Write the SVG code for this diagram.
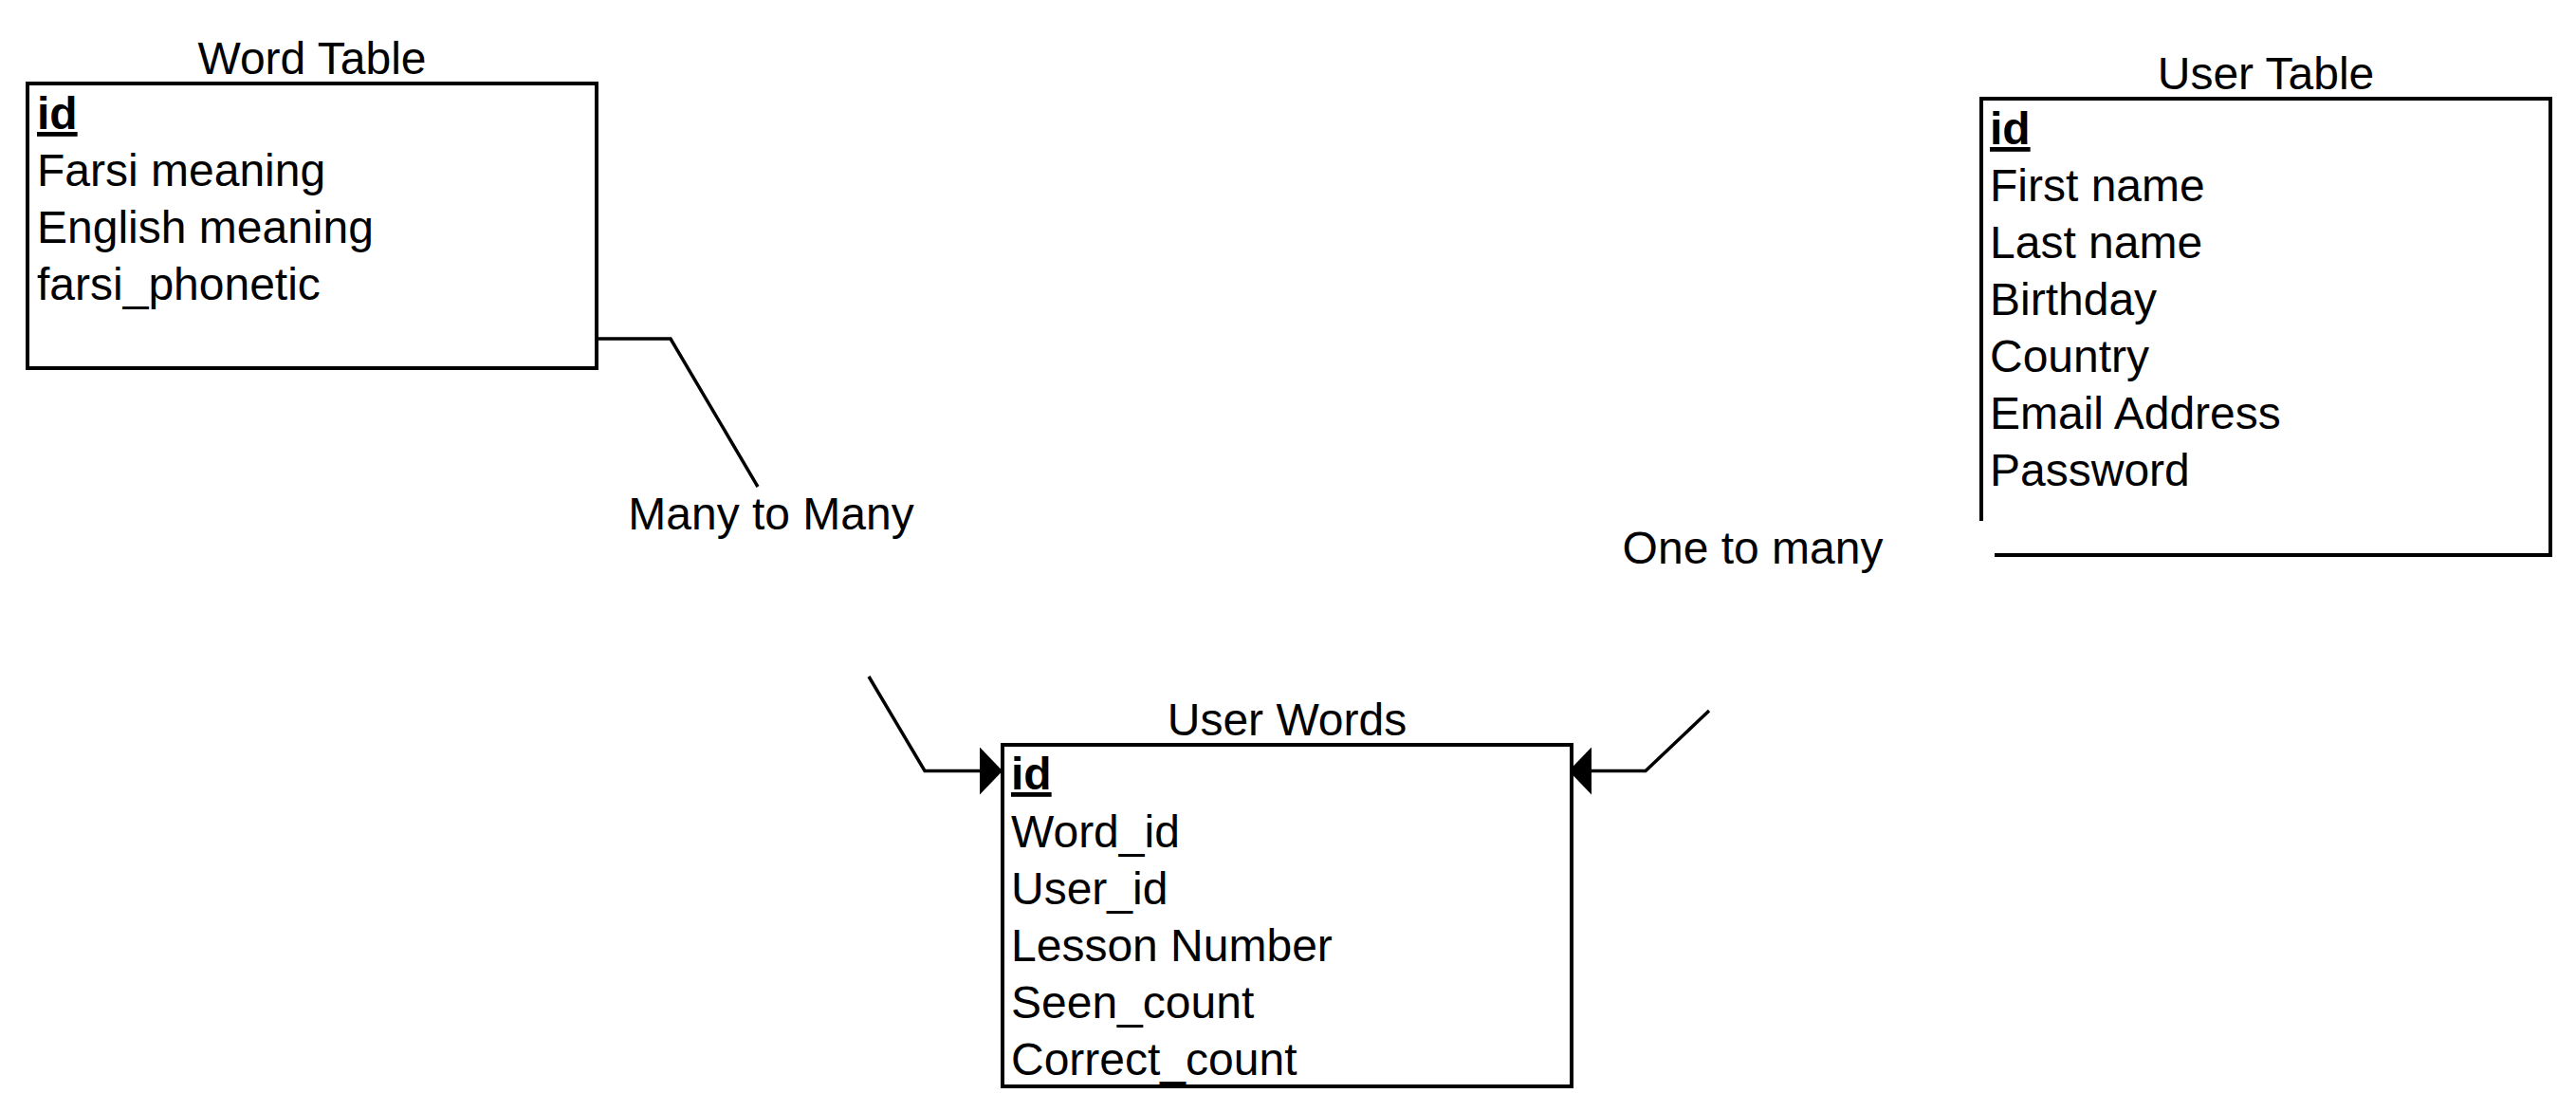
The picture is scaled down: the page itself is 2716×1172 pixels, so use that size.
<svg xmlns="http://www.w3.org/2000/svg" width="2716" height="1172" viewBox="0 0 2716 1172">
<style>
text{font-family:"Liberation Sans",Arial,Helvetica,sans-serif;font-size:48px;fill:#000}
.title{text-anchor:middle}
.pk{font-weight:bold;text-decoration:underline}
.box{fill:#fff;stroke:#000;stroke-width:4}
.edge{fill:none;stroke:#000;stroke-width:3.5}
</style>
<defs>
<marker id="block" markerUnits="userSpaceOnUse" markerWidth="24" markerHeight="50" refX="23" refY="25" orient="auto" viewBox="0 0 24 50">
<path d="M0,0 L24,25 L0,50 Z" fill="#000"/>
</marker>
</defs>
<rect width="2716" height="1172" fill="#fff"/>
<g id="connectors">
<path class="edge" d="M629,357 L707,357 L799,513"/>
<path class="edge" d="M916,713 L975,812.5 L1056,812.5" marker-end="url(#block)"/>
<path class="edge" d="M1802,749 L1735,812.5 L1655,812.5" marker-end="url(#block)"/>
</g>
<g id="word-table">
<text class="title" x="329" y="78">Word Table</text>
<rect class="box" x="29" y="88" width="600" height="300"/>
<text class="pk" x="39" y="136">id</text>
<text x="39" y="196">Farsi meaning</text>
<text x="39" y="256">English meaning</text>
<text x="39" y="316">farsi_phonetic</text>
</g>
<g id="user-table">
<text class="title" x="2389" y="94">User Table</text>
<path class="box" d="M2089,549 L2089,104 L2689,104 L2689,585 L2103,585"/>
<text class="pk" x="2098" y="152">id</text>
<text x="2098" y="212">First name</text>
<text x="2098" y="272">Last name</text>
<text x="2098" y="332">Birthday</text>
<text x="2098" y="392">Country</text>
<text x="2098" y="452">Email Address</text>
<text x="2098" y="512">Password</text>
</g>
<g id="user-words">
<text class="title" x="1357" y="775">User Words</text>
<rect class="box" x="1057" y="785" width="600" height="360"/>
<text class="pk" x="1066" y="832">id</text>
<text x="1066" y="893">Word_id</text>
<text x="1066" y="953">User_id</text>
<text x="1066" y="1013">Lesson Number</text>
<text x="1066" y="1073">Seen_count</text>
<text x="1066" y="1133">Correct_count</text>
</g>
<g id="label-many-to-many">
<text class="title" x="813" y="558">Many to Many</text>
</g>
<g id="label-one-to-many">
<text class="title" x="1848" y="594">One to many</text>
</g>
</svg>
